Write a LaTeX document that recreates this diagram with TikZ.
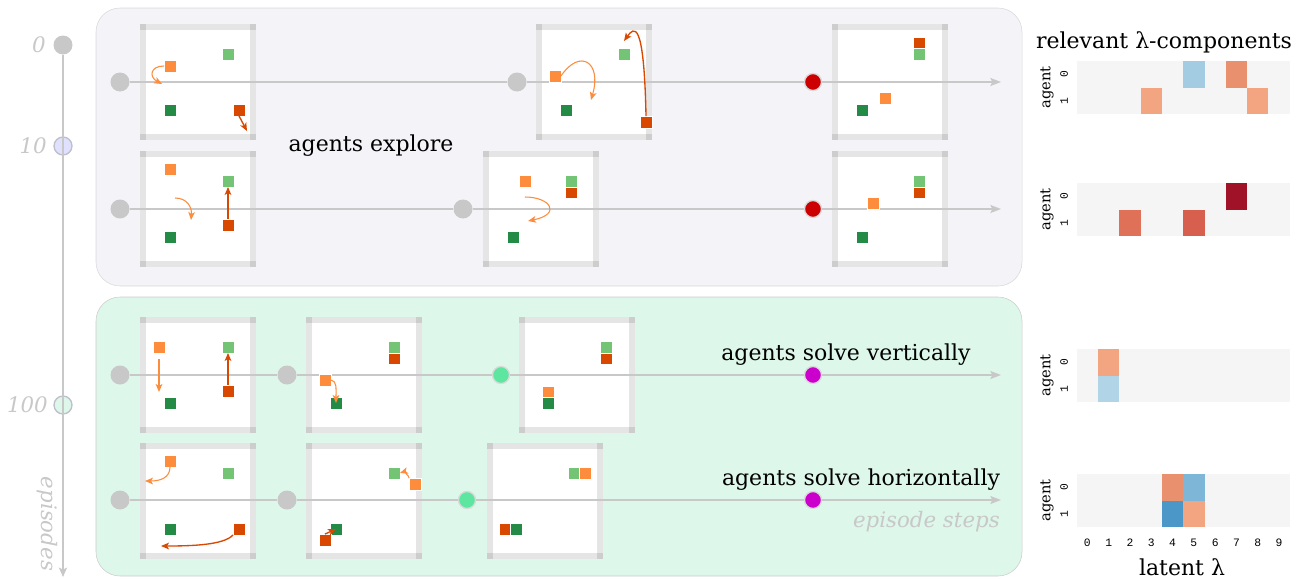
\documentclass[tikz,border=0pt]{standalone}
\usepackage{fontspec}
\setmainfont{DejaVu Serif}
\newfontfamily\tickfont{Liberation Mono}
\usetikzlibrary{arrows.meta}

\definecolor{lg}{HTML}{74C476}
\definecolor{dg}{HTML}{238B45}
\definecolor{og}{HTML}{FD8D3C}
\definecolor{rd}{HTML}{D94801}
\definecolor{faint}{HTML}{C8C8C8}
\definecolor{explorebg}{HTML}{F3F3F8}
\definecolor{solvebg}{HTML}{DDF7EA}
\definecolor{stopred}{HTML}{CC0000}
\definecolor{stopgreen}{HTML}{5CE6A0}
\definecolor{stopmag}{HTML}{CC00CC}
% heatmap shades
\definecolor{hb1}{HTML}{A3CCE3}
\definecolor{hb2}{HTML}{B1D5E7}
\definecolor{hb3}{HTML}{7EB6D7}
\definecolor{hb4}{HTML}{4A97C8}
\definecolor{hr1}{HTML}{F3A481}
\definecolor{hr2}{HTML}{E9906F}
\definecolor{hr3}{HTML}{DF7159}
\definecolor{hr4}{HTML}{D6604D}
\definecolor{hr5}{HTML}{A01228}

% one gridworld snapshot, top left corner at (#1,#2)
\newcommand{\gridbox}[2]{%
  \fill[white] (#1,#2) rectangle ++(116,116);
  \fill[frame] (#1,#2) rectangle ++(116,6);
  \fill[frame] (#1,#2+110) rectangle ++(116,6);
  \fill[frame] (#1,#2) rectangle ++(6,116);
  \fill[frame] (#1+110,#2) rectangle ++(6,116);
}
% agent / goal tile
\newcommand{\tile}[4]{\node[cell,fill=#2] (#1) at (#3,#4) {};}
% empty heatmap with its axis labels, top edge at #1
\newcommand{\heat}[2]{%
  \fill[black!4] (1076.7,#1) rectangle ++(213,53);
  \node[ylab] (#2a) at (1047,#1+26.5) {agent};
  \node[ytick] (#2z) at (1064,#1+13.25) {0};
  \node[ytick] (#2o) at (1064,#1+39.75) {1};
}
\newcommand{\hcell}[4]{\fill[#4] ({1076.7+21.3*#3},{#1+26.5*#2}) rectangle ++(21.3,26.5);}

\begin{document}
\begin{tikzpicture}[x=0.75pt,y=-0.75pt,
    frame/.style={black,opacity=.1},
    cell/.style={rectangle,minimum size=8.6pt,inner sep=0pt,draw=white,line width=.3pt},
    dot/.style={circle,fill=faint,minimum size=14.25pt,inner sep=0pt},
    stop/.style={circle,minimum size=12.75pt,inner sep=0pt,draw=black!15,line width=1pt},
    run/.style={faint,line width=1.1pt},
    runend/.style={run,-{Stealth[length=8pt,width=6pt,inset=1.5pt]}},
    oarr/.style={og,line width=.8pt,-{Stealth[length=6pt,width=5pt,inset=1.5pt]}},
    rarr/.style={rd,line width=1pt,-{Stealth[length=6pt,width=5pt,inset=1.5pt]}},
    lbl/.style={font=\fontsize{16.5}{19}\selectfont,inner sep=0pt},
    grey/.style={text=faint,font=\fontsize{16}{18}\selectfont\itshape,inner sep=0pt},
    ylab/.style={rotate=90,inner sep=0pt,font=\fontsize{11}{12}\selectfont},
    ytick/.style={rotate=90,inner sep=0pt,font=\tickfont\fontsize{8.5}{9}\selectfont},
    xtick/.style={inner sep=0pt,font=\tickfont\fontsize{8.5}{9}\selectfont}]
  \useasboundingbox (0,0) rectangle (1305,578);

  % the two phases
  \draw[fill=explorebg,draw=black!15,rounded corners=18pt] (96,8) rectangle (1022,286);
  \draw[fill=solvebg,draw=black!20,rounded corners=18pt] (96,297) rectangle (1022,576);

  % episode axis
  \node[dot] (t0) at (63,45) {};
  \node[circle,minimum size=13.5pt,inner sep=0pt,fill=blue!12!white,draw=blue!20!black!25,line width=1pt] (t10) at (63,146) {};
  \node[circle,minimum size=13.5pt,inner sep=0pt,fill=solvebg,draw=blue!20!black!25,line width=1pt] (t100) at (63,405) {};
  \coordinate (tend) at (63,577);
  \draw[faint,line width=1.5pt,-{Stealth[length=7pt,width=6pt,inset=1.5pt]}] (t0) -- (tend);
  \node[grey,anchor=east] (n0) at (46,45) {0};
  \node[grey,anchor=east] (n10) at (47,146) {10};
  \node[grey,anchor=east] (n100) at (48,405) {100};
  \node[grey,rotate=-90] (eps) at (47,524) {episodes};

  % snapshots
  \gridbox{140}{24} \gridbox{536}{24} \gridbox{832}{24}
  \gridbox{140}{151} \gridbox{483}{151} \gridbox{832}{151}
  \gridbox{140}{317} \gridbox{306}{317} \gridbox{519}{317}
  \gridbox{140}{443} \gridbox{306}{443} \gridbox{487}{443}

  % time steps along each run
  \node[dot] (s1) at (120,82) {};  \node[dot] (p1) at (517,82) {};
  \node[stop,fill=stopred] (q1) at (813,82) {};
  \node[dot] (s2) at (120,209) {}; \node[dot] (p2) at (463,209) {};
  \node[stop,fill=stopred] (q2) at (813,209) {};
  \node[dot] (s3) at (120,375) {}; \node[dot] (p3) at (287,375) {};
  \node[stop,fill=stopgreen] (g3) at (501,375) {};
  \node[stop,fill=stopmag] (q3) at (813,375) {};
  \node[dot] (s4) at (120,500) {}; \node[dot] (p4) at (287,500) {};
  \node[stop,fill=stopgreen] (g4) at (467,500) {};
  \node[stop,fill=stopmag] (q4) at (813,500) {};
  \coordinate (e1) at (1001,82);  \coordinate (e2) at (1001,209);
  \coordinate (e3) at (1001,375); \coordinate (e4) at (1001,500);

  \draw[run] (s1) -- (p1) (p1) -- (q1);  \draw[runend] (q1) -- (e1);
  \draw[run] (s2) -- (p2) (p2) -- (q2);  \draw[runend] (q2) -- (e2);
  \draw[run] (s3) -- (p3) (p3) -- (g3) (g3) -- (q3);  \draw[runend] (q3) -- (e3);
  \draw[run] (s4) -- (p4) (p4) -- (g4) (g4) -- (q4);  \draw[runend] (q4) -- (e4);

  % agents and goals
  \tile{a1o}{og}{170}{66}  \tile{a1l}{lg}{228}{54}  \tile{a1d}{dg}{170}{110} \tile{a1r}{rd}{239}{110}
  \tile{b1o}{og}{555}{76}  \tile{b1l}{lg}{624}{54}  \tile{b1d}{dg}{566}{110} \tile{b1r}{rd}{646}{122}
  \tile{c1r}{rd}{919}{42.5} \tile{c1l}{lg}{919}{54} \tile{c1o}{og}{885}{98} \tile{c1d}{dg}{862}{110}
  \tile{a2o}{og}{170}{169} \tile{a2l}{lg}{228}{181} \tile{a2r}{rd}{228}{225} \tile{a2d}{dg}{170}{237}
  \tile{b2o}{og}{525}{181} \tile{b2l}{lg}{571}{181} \tile{b2r}{rd}{571}{192.5} \tile{b2d}{dg}{513}{237}
  \tile{c2l}{lg}{919}{181} \tile{c2r}{rd}{919}{192.5} \tile{c2o}{og}{873}{203} \tile{c2d}{dg}{862}{237}
  \tile{a3o}{og}{159}{347} \tile{a3l}{lg}{228}{347} \tile{a3r}{rd}{228}{391} \tile{a3d}{dg}{170}{403}
  \tile{b3l}{lg}{394}{347} \tile{b3r}{rd}{394}{358.5} \tile{b3o}{og}{325}{380} \tile{b3d}{dg}{336}{403}
  \tile{c3l}{lg}{606}{347} \tile{c3r}{rd}{606}{358.5} \tile{c3o}{og}{548}{391.5} \tile{c3d}{dg}{548}{403}
  \tile{a4o}{og}{170}{461} \tile{a4l}{lg}{228}{473} \tile{a4d}{dg}{170}{529} \tile{a4r}{rd}{239}{529}
  \tile{b4l}{lg}{394}{473} \tile{b4o}{og}{415}{484} \tile{b4d}{dg}{336}{529} \tile{b4r}{rd}{325}{540}
  \tile{c4l}{lg}{574}{473} \tile{c4o}{og}{585}{473} \tile{c4r}{rd}{505}{529} \tile{c4d}{dg}{516}{529}

  % moves
  \coordinate (m1a) at (162,84);  \coordinate (m1b) at (247,131);
  \coordinate (m1c) at (591,100); \coordinate (m1d) at (624,41);
  \draw[oarr] (a1o.west) .. controls (150,66) and (149,77) .. (m1a);
  \draw[rarr] (a1r.south) -- (m1b);
  \draw[oarr] (b1o.east) .. controls (580,48) and (602,62) .. (m1c);
  \draw[rarr] (b1r.north) .. controls (644,18) and (634,27) .. (m1d);
  \coordinate (m2a) at (175,198); \coordinate (m2b) at (191,220);
  \coordinate (m2c) at (525,197); \coordinate (m2d) at (528,221);
  \draw[oarr] (m2a) .. controls (187,198) and (192,207) .. (m2b);
  \draw[rarr] (a2r.north) -- (a2l.south);
  \draw[oarr] (m2c) .. controls (550,197) and (562,214) .. (m2d);
  \coordinate (m3a) at (159,359); \coordinate (m3b) at (159,392);
  \draw[oarr] (m3a) -- (m3b);
  \draw[rarr] (a3r.north) -- (a3l.south);
  \draw[oarr] (b3o.east) .. controls (337,381) and (336,388) .. (b3d.center);
  \coordinate (m4a) at (145,481); \coordinate (m4b) at (161,546);
  \draw[oarr] (a4o.south) .. controls (170,478) and (160,481) .. (m4a);
  \draw[rarr] (a4r.south west) .. controls (224,545) and (192,546) .. (m4b);
  \draw[oarr] (b4o.north west) .. controls (409,475) and (403,472) .. (b4l.east);
  \draw[rarr] (b4r.north) -- (b4d.center);

  % captions
  \node[lbl] (explore) at (371,146) {agents explore};
  \node[lbl] (vert) at (846,355) {agents solve vertically};
  \node[lbl] (horiz) at (861,480) {agents solve horizontally};
  \node[grey,anchor=east] (steps) at (1000,522) {episode steps};

  % relevant latent components per run
  \node[lbl] (title) at (1164,42) {relevant λ-components};
  \heat{61}{h1}
  \foreach \r/\c/\col in {0/5/hb1,0/7/hr2,1/3/hr1,1/8/hr1}
    {\hcell{61}{\r}{\c}{\col}}
  \heat{183}{h2}
  \foreach \r/\c/\col in {0/7/hr5,1/2/hr3,1/5/hr4}
    {\hcell{183}{\r}{\c}{\col}}
  \heat{349}{h3}
  \foreach \r/\c/\col in {0/1/hr1,1/1/hb2}
    {\hcell{349}{\r}{\c}{\col}}
  \heat{474}{h4}
  \foreach \r/\c/\col in {0/4/hr2,0/5/hb3,1/4/hb4,1/5/hr1}
    {\hcell{474}{\r}{\c}{\col}}
  \foreach \i in {0,...,9}
    \node[xtick] (x\i) at ({1087.35+21.3*\i},543) {\i};
  \node[lbl] (latent) at (1182,567) {latent λ};
\end{tikzpicture}
\end{document}
